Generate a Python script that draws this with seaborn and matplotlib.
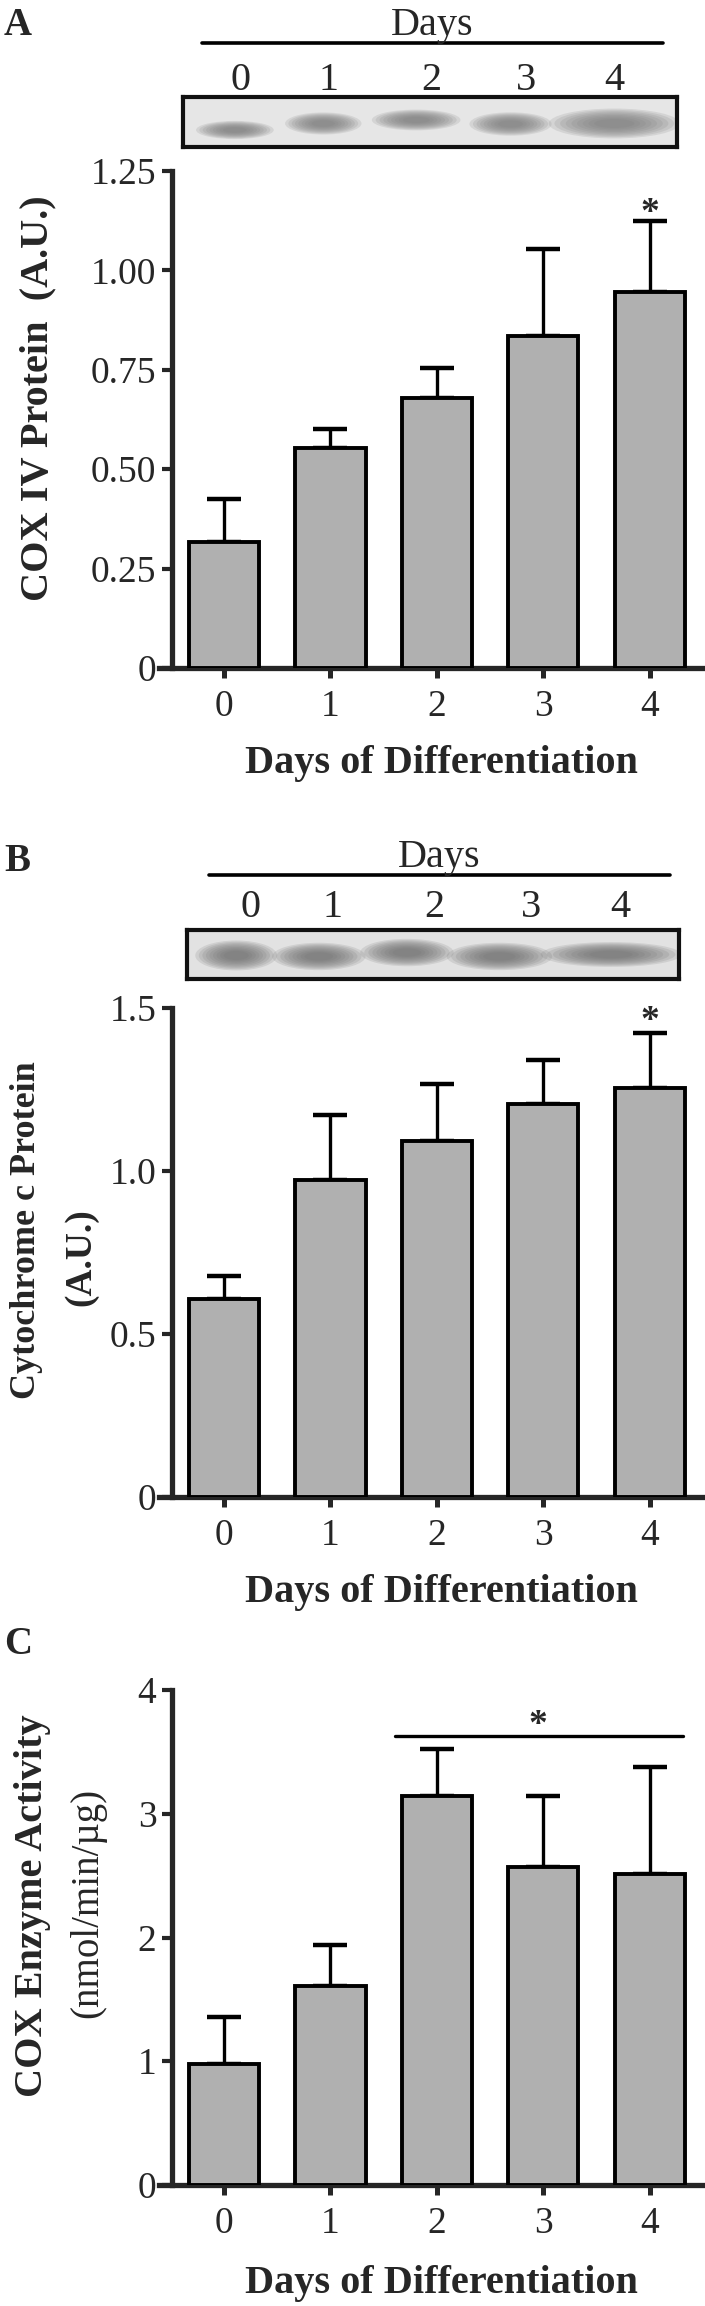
import numpy as np
import pandas as pd
import seaborn as sns
import matplotlib.pyplot as plt
from matplotlib.patches import Ellipse
from matplotlib.lines import Line2D

days = ['0', '1', '2', '3', '4']

# A: COX IV protein (A.U.), mean and upper SEM
cox4_mean = [0.318, 0.553, 0.678, 0.836, 0.946]
cox4_sem = [0.106, 0.049, 0.076, 0.218, 0.179]

# B: cytochrome c protein (A.U.)
cytc_mean = [0.606, 0.972, 1.093, 1.207, 1.256]
cytc_sem = [0.073, 0.200, 0.173, 0.133, 0.166]

# C: COX enzyme activity (nmol/min/ug)
act_mean = [0.98, 1.61, 3.14, 2.57, 2.51]
act_sem = [0.38, 0.33, 0.38, 0.57, 0.87]

# western blot bands, in fractions of the blot box
blot_a_x = [0.105, 0.284, 0.472, 0.663, 0.873]
blot_a_w = [0.121, 0.119, 0.138, 0.128, 0.204]
blot_a_y = [0.34, 0.47, 0.54, 0.46, 0.47]
blot_a_h = [0.28, 0.34, 0.32, 0.36, 0.46]
blot_b_x = [0.100, 0.268, 0.447, 0.635, 0.862]
blot_b_w = [0.128, 0.146, 0.146, 0.165, 0.220]
blot_b_y = [0.48, 0.46, 0.54, 0.46, 0.50]
blot_b_h = [0.47, 0.43, 0.43, 0.43, 0.39]

BAR = '#b0b0b0'
W, H = 705, 2306

sns.set_style('ticks')
plt.rcParams['font.family'] = ['Liberation Serif', 'DejaVu Serif']


def fx(px):
    return px / W


def fy(py):
    return 1 - py / H


def box(x0, y0, x1, y1):
    return [fx(x0), fy(y1), (x1 - x0) / W, (y1 - y0) / H]


fig = plt.figure(figsize=(W / 100, H / 100), dpi=100)


def bar_panel(rect, means, sems, ylim, yticks, yticklabels):
    ax = fig.add_axes(rect)
    df = pd.DataFrame({'day': days, 'value': means})
    sns.barplot(data=df, x='day', y='value', color=BAR, saturation=1,
                width=0.66, edgecolor='black', linewidth=2.8,
                errorbar=None, ax=ax, zorder=3)
    ax.errorbar(range(len(days)), means, yerr=[np.zeros(len(days)), sems],
                fmt='none', ecolor='black', elinewidth=2.4, capsize=12,
                capthick=3.2, zorder=2)
    ax.set_xlim(-0.61, 4.5)
    ax.set_ylim(*ylim)
    ax.set_yticks(yticks)
    ax.set_yticklabels(yticklabels)
    ax.spines['left'].set_position(('data', -0.49))
    for s in ['top', 'right']:
        ax.spines[s].set_visible(False)
    for s in ['left', 'bottom']:
        ax.spines[s].set_linewidth(3.8)
    ax.tick_params(axis='y', length=7, width=3, labelsize=27, pad=4)
    ax.tick_params(axis='x', length=7.5, width=3.6, labelsize=27, pad=8)
    ax.set_xlabel('')
    ax.set_ylabel('')
    return ax


def blot(rect, xs, ws, ys, hs, bg, band):
    ax = fig.add_axes(rect)
    ax.set_facecolor(bg)
    ax.set_xlim(0, 1)
    ax.set_ylim(0, 1)
    ax.set_xticks([])
    ax.set_yticks([])
    for s in ax.spines.values():
        s.set_linewidth(3)
        s.set_color('#111111')
    for x, w, y, h in zip(xs, ws, ys, hs):
        # soft edged band
        for k in np.linspace(1.3, 0.4, 9):
            ax.add_patch(Ellipse((x, y), w * k, h * k, facecolor=band,
                                 edgecolor='none', alpha=0.16))
    return ax


def days_header(y_days, y_line, x_line, y_nums, x_nums):
    xc = (x_line[0] + x_line[1]) / 2
    fig.text(fx(xc), fy(y_days), 'Days', ha='center', va='baseline', fontsize=29)
    fig.add_artist(Line2D([fx(x_line[0]), fx(x_line[1])], [fy(y_line), fy(y_line)],
                          color='black', lw=2.6))
    for d, x in zip(days, x_nums):
        fig.text(fx(x), fy(y_nums), d, ha='center', va='baseline', fontsize=29)


# ---- panel A ----
fig.text(fx(4), fy(35), 'A', ha='left', va='baseline', fontsize=28, fontweight='bold')
days_header(35, 43, (202, 663), 90, [241, 328, 431, 526, 614])
blot(box(183, 97, 677, 147), blot_a_x, blot_a_w, blot_a_y, blot_a_h, '#e6e6e6', '#7a7a7a')
axA = bar_panel(box(159, 171, 703, 668), cox4_mean, cox4_sem, (0, 1.25),
                [0, 0.25, 0.5, 0.75, 1.0, 1.25], ['0', '0.25', '0.50', '0.75', '1.00', '1.25'])
axA.text(4, 1.12, '*', ha='center', va='baseline', fontsize=27, fontweight='bold')
fig.text(fx(38), fy(398), 'COX IV Protein  (A.U.)', rotation=90, ha='center', va='center',
         fontsize=29, fontweight='bold')
fig.text(fx(441), fy(773), 'Days of Differentiation', ha='center', va='baseline',
         fontsize=29, fontweight='bold')

# ---- panel B ----
fig.text(fx(4), fy(871), 'B', ha='left', va='baseline', fontsize=28, fontweight='bold')
days_header(867, 875, (209, 670), 917, [250, 333, 434, 531, 620])
blot(box(187, 930, 679, 979), blot_b_x, blot_b_w, blot_b_y, blot_b_h, '#e2e2e2', '#6e6e6e')
axB = bar_panel(box(159, 1008, 703, 1497), cytc_mean, cytc_sem, (0, 1.5),
                [0, 0.5, 1.0, 1.5], ['0', '0.5', '1.0', '1.5'])
axB.text(4, 1.43, '*', ha='center', va='baseline', fontsize=27, fontweight='bold')
fig.text(fx(27), fy(1230), 'Cytochrome c Protein', rotation=90, ha='center', va='center',
         fontsize=26, fontweight='bold')
fig.text(fx(81), fy(1257), '(A.U.)', rotation=90, ha='center', va='center',
         fontsize=27, fontweight='bold')
fig.text(fx(441), fy(1602), 'Days of Differentiation', ha='center', va='baseline',
         fontsize=29, fontweight='bold')

# ---- panel C ----
fig.text(fx(4), fy(1654), 'C', ha='left', va='baseline', fontsize=28, fontweight='bold')
axC = bar_panel(box(159, 1690, 703, 2185), act_mean, act_sem, (0, 4),
                [0, 1, 2, 3, 4], ['0', '1', '2', '3', '4'])
axC.plot([1.61, 4.31], [3.63, 3.63], color='black', lw=2.4, clip_on=False)
axC.text(2.95, 3.64, '*', ha='center', va='baseline', fontsize=27, fontweight='bold')
fig.text(fx(33), fy(1906), 'COX Enzyme Activity', rotation=90, ha='center', va='center',
         fontsize=29, fontweight='bold')
fig.text(fx(88), fy(1903), '(nmol/min/\u00b5g)', rotation=90, ha='center', va='center',
         fontsize=28)
fig.text(fx(441), fy(2293), 'Days of Differentiation', ha='center', va='baseline',
         fontsize=29, fontweight='bold')

fig.savefig('out.png', dpi=100)
